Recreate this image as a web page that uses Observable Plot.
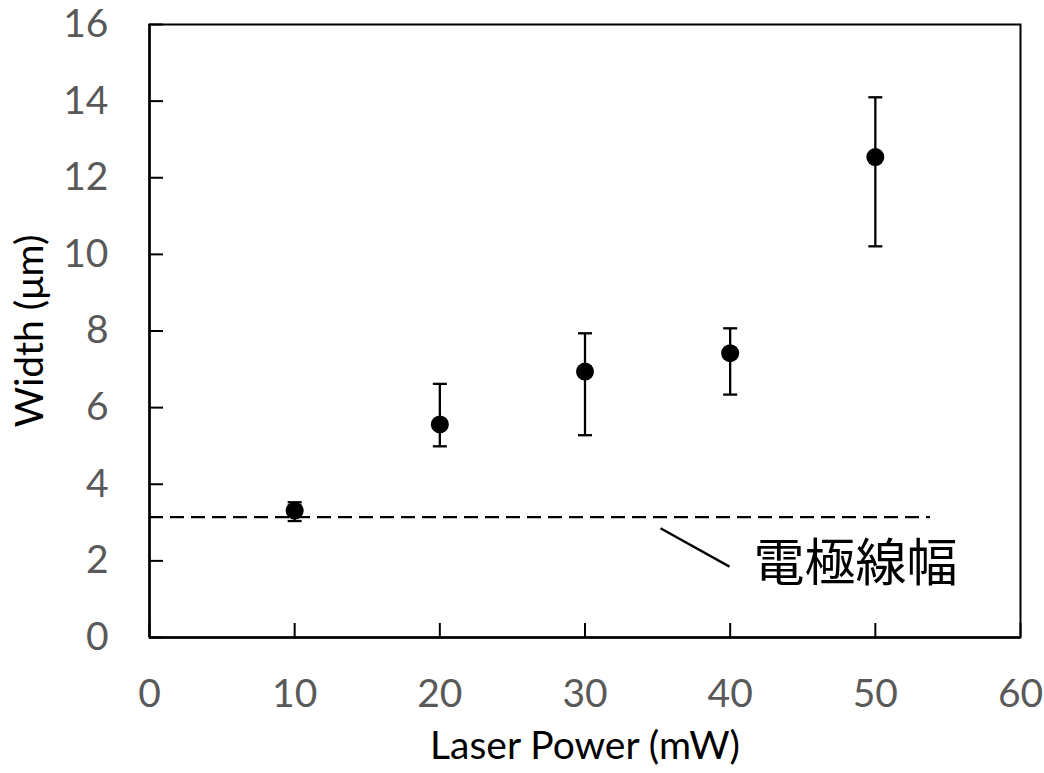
<!DOCTYPE html>
<html>
<head>
<meta charset="utf-8">
<script src="https://cdn.jsdelivr.net/npm/d3@7"></script>
<script src="https://cdn.jsdelivr.net/npm/@observablehq/plot@0.6"></script>
<style>
  html, body { margin: 0; padding: 0; background: #fff; }
</style>
</head>
<body>
<div id="chart"></div>
<script>
// Data
const power = [10, 20, 30, 40, 50];           // Laser Power (mW)
const widthMean = [3.31, 5.56, 6.94, 7.42, 12.54]; // Width (µm)
const widthHigh = [3.53, 6.62, 7.94, 8.07, 14.10];
const widthLow  = [3.04, 4.99, 5.28, 6.34, 10.21];
const xTicks = [0, 10, 20, 30, 40, 50, 60];
const yTicks = [0, 2, 4, 6, 8, 10, 12, 14, 16];
const electrodeWidth = [3.14];   // 電極線幅 reference line
const electrodeLineEnd = 53.8;
const calloutLine = [{x1: 35.2, y1: 2.85, x2: 39.95, y2: 1.85}];
const calloutText = [{x: 41.6, y: 1.9, label: "電極線幅"}];

const rows = power.map((p, i) => ({power: p, mean: widthMean[i], hi: widthHigh[i], lo: widthLow[i]}));

const capSymbol = {
  draw(context, size) {
    const w = Math.sqrt(size / Math.PI);
    context.moveTo(-w, 0);
    context.lineTo(w, 0);
  }
};

const tickFont = "Lato, 'Open Sans', sans-serif";

const chart = Plot.plot({
  width: 1044,
  height: 773,
  marginLeft: 149,
  marginRight: 24,
  marginTop: 24,
  marginBottom: 136,
  style: {fontFamily: tickFont, background: "#fff"},
  x: {domain: [0, 60]},
  y: {domain: [0, 16]},
  marks: [
    Plot.axisX({
      ticks: xTicks, tickSize: -14, tickPadding: 56, stroke: "#000", strokeWidth: 2,
      fill: "#595959", fontSize: 39, tickFormat: d => d,
      label: "Laser Power (mW)", labelAnchor: "center", labelOffset: 121, labelArrow: "none"
    }),
    Plot.axisY({
      ticks: yTicks, tickSize: -14, tickPadding: 55, stroke: "#000", strokeWidth: 2,
      fill: "#595959", fontSize: 39, tickFormat: d => d,
      label: "Width (μm)", labelAnchor: "center", labelOffset: 134, labelArrow: "none"
    }),
    Plot.frame({stroke: "#000", strokeWidth: 2}),
    Plot.ruleX([0], {stroke: "#000", strokeWidth: 2.5}),
    Plot.ruleY([0], {stroke: "#000", strokeWidth: 2.5}),
    Plot.ruleY(electrodeWidth, {x1: 0, x2: electrodeLineEnd, stroke: "#000", strokeWidth: 2.3, strokeDasharray: "14,7"}),
    Plot.link(calloutLine, {x1: "x1", y1: "y1", x2: "x2", y2: "y2", stroke: "#000", strokeWidth: 2.3}),
    Plot.text(calloutText, {x: "x", y: "y", text: "label", textAnchor: "start", lineAnchor: "middle",
      fontSize: 51, fill: "#000", fontFamily: "'Noto Sans CJK JP', sans-serif"}),
    Plot.ruleX(rows, {x: "power", y1: "lo", y2: "hi", stroke: "#000", strokeWidth: 2.3}),
    Plot.dot(rows, {x: "power", y: "hi", symbol: capSymbol, r: 7, stroke: "#000", strokeWidth: 2.3, fill: "none"}),
    Plot.dot(rows, {x: "power", y: "lo", symbol: capSymbol, r: 7, stroke: "#000", strokeWidth: 2.3, fill: "none"}),
    Plot.dot(rows, {x: "power", y: "mean", r: 9, fill: "#000", stroke: "none"})
  ]
});

// Axis titles in black
chart.querySelectorAll("[aria-label='x-axis label'] text, [aria-label='y-axis label'] text").forEach(t => {
  t.setAttribute("fill", "#000");
});
document.getElementById("chart").appendChild(chart);
</script>
</body>
</html>
